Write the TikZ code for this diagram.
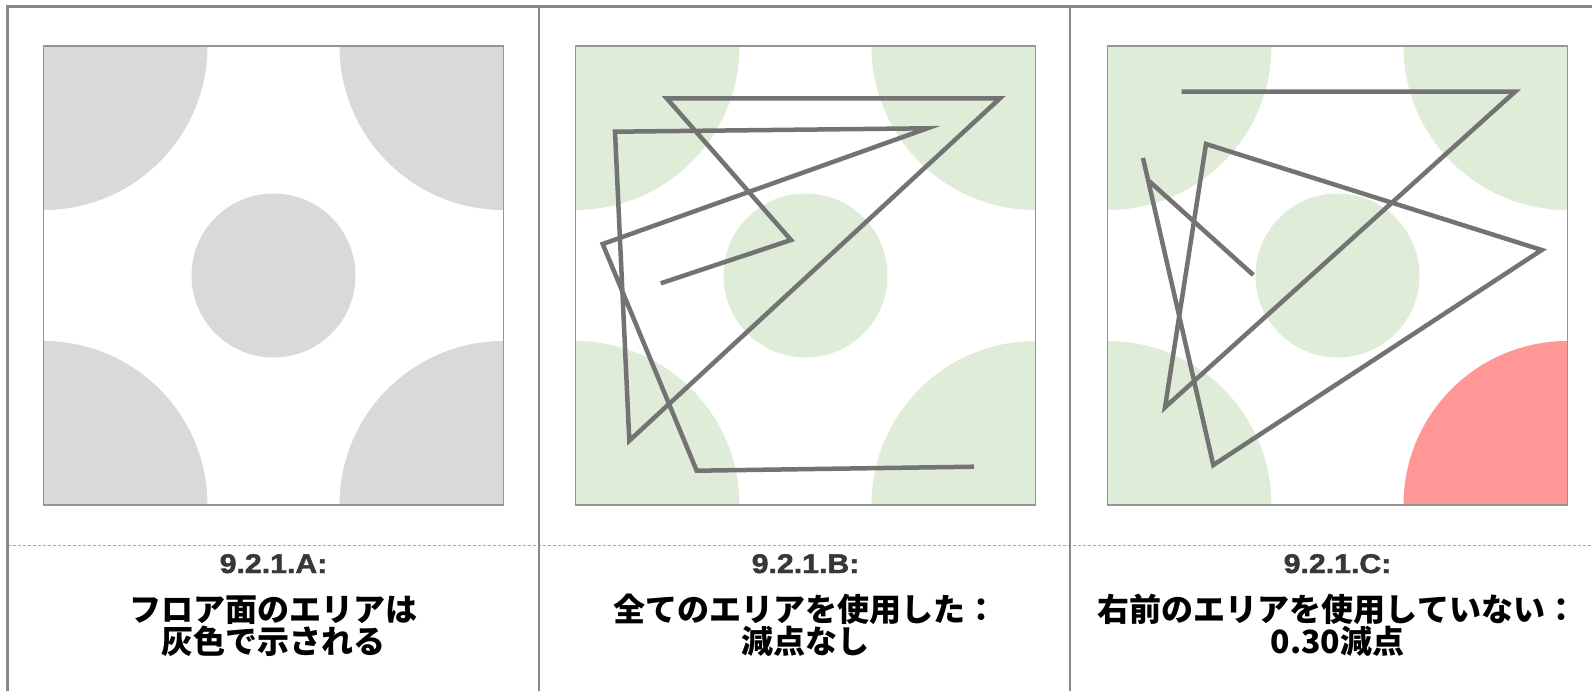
\documentclass[tikz,border=0pt]{standalone}
\usepackage{fontspec}
\setmainfont{Liberation Sans}
\newfontfamily\lblfont{Liberation Sans}[BoldFeatures={FakeBold=1.6}]
\newfontfamily\jp{Noto Sans CJK JP}
\definecolor{frameC}{HTML}{888888}
\definecolor{boxC}{HTML}{959595}
\definecolor{dashC}{HTML}{A8A8A8}
\definecolor{grayA}{HTML}{D9D9D9}
\definecolor{greenB}{HTML}{DFEDD8}
\definecolor{redC}{HTML}{FF9797}
\definecolor{pathC}{HTML}{737373}
\definecolor{lblC}{HTML}{383838}
\newcommand{\floorpanel}[3]{%
  \begin{scope}
    \clip (#1,46) rectangle ({#1+460},505);
    \fill[white] (#1,46) rectangle ({#1+460},505);
    \fill[#2] (#1,46) circle[radius=164];
    \fill[#2] ({#1+460},46) circle[radius=164];
    \fill[#2] (#1,505) circle[radius=164];
    \fill[#3] ({#1+460},505) circle[radius=164];
    \fill[#2] ({#1+230},275.5) circle[radius=82];
  \end{scope}
  \draw[boxline] (#1,46) rectangle ({#1+460},505);
}
\begin{document}
\begin{tikzpicture}[x=1pt,y=-1pt,
  frameline/.style={draw=frameC, line width=2.5pt},
  boxline/.style={draw=boxC, line width=1.8pt},
  route/.style={draw=pathC, line width=4.5pt, line join=miter},
  lbl/.style={anchor=base, inner sep=0pt, text=lblC, font=\lblfont\bfseries\fontsize{27}{27}\selectfont},
  jtxt/.style={anchor=base, inner sep=0pt, text=black, font=\jp\bfseries\fontsize{32}{32}\selectfont}]
\useasboundingbox (0,0) rectangle (1592,691);
\fill[white] (0,0) rectangle (1592,691);

% panels
\floorpanel{43.5}{grayA}{grayA}
\floorpanel{575.5}{greenB}{greenB}
\floorpanel{1107.5}{greenB}{redC}

% frame
\coordinate (tl) at (7.5,6.5);
\coordinate (tr) at (1592,6.5);
\coordinate (bl) at (7.5,691);
\coordinate (d1t) at (539,6.5);
\coordinate (d1b) at (539,691);
\coordinate (d2t) at (1070,6.5);
\coordinate (d2b) at (1070,691);
\coordinate (hl) at (7.5,545);
\coordinate (hr) at (1592,545);
\draw[dashC, line width=1pt, dash pattern=on 3pt off 2pt] (hl) -- (hr);
\draw[frameline] (bl) -- (tl) -- (tr);
\draw[frameline] (d1t) -- (d1b);
\draw[frameline] (d2t) -- (d2b);

% route B
\coordinate (b1) at (660.7,283.3);
\coordinate (b2) at (791,240);
\coordinate (b3) at (666.7,98.3);
\coordinate (b4) at (1000,98.3);
\coordinate (b5) at (629.3,440.7);
\coordinate (b6) at (615,131.7);
\coordinate (b7) at (927.3,128.3);
\coordinate (b8) at (602.7,244);
\coordinate (b9) at (696.7,470.7);
\coordinate (b10) at (974,466.7);
\draw[route] (b1) -- (b2) -- (b3) -- (b4) -- (b5) -- (b6) -- (b7) -- (b8) -- (b9) -- (b10);

% route C
\coordinate (c1) at (1181.7,91.7);
\coordinate (c2) at (1515,91.7);
\coordinate (c3) at (1165,407.3);
\coordinate (c4) at (1206,144);
\coordinate (c5) at (1541.7,250);
\coordinate (c6) at (1213.3,465);
\coordinate (c7) at (1143,158);
\coordinate (c8) at (1149,181);
\coordinate (c9) at (1253.3,275);
\draw[route] (c1) -- (c2) -- (c3) -- (c4) -- (c5) -- (c6) -- (c7);
\draw[route] (c8) -- (c9);

% labels
\node[lbl] (la) at (273.5,573) {\scalebox{1.12}[1]{9.2.1.A:}};
\node[lbl] (lb) at (805.5,573) {\scalebox{1.12}[1]{9.2.1.B:}};
\node[lbl] (lc) at (1337.5,573) {\scalebox{1.12}[1]{9.2.1.C:}};

\node[jtxt] (a1) at (273.5,621) {フロア面のエリアは};
\node[jtxt] (a2) at (273.5,653) {灰色で示される};
\node[jtxt] (bt1) at (805.5,621) {全てのエリアを使用した：};
\node[jtxt] (bt2) at (805.5,653) {減点なし};
\node[jtxt] (ct1) at (1337.5,621) {右前のエリアを使用していない：};
\node[jtxt] (ct2) at (1337.5,653) {0.30減点};
\end{tikzpicture}
\end{document}
